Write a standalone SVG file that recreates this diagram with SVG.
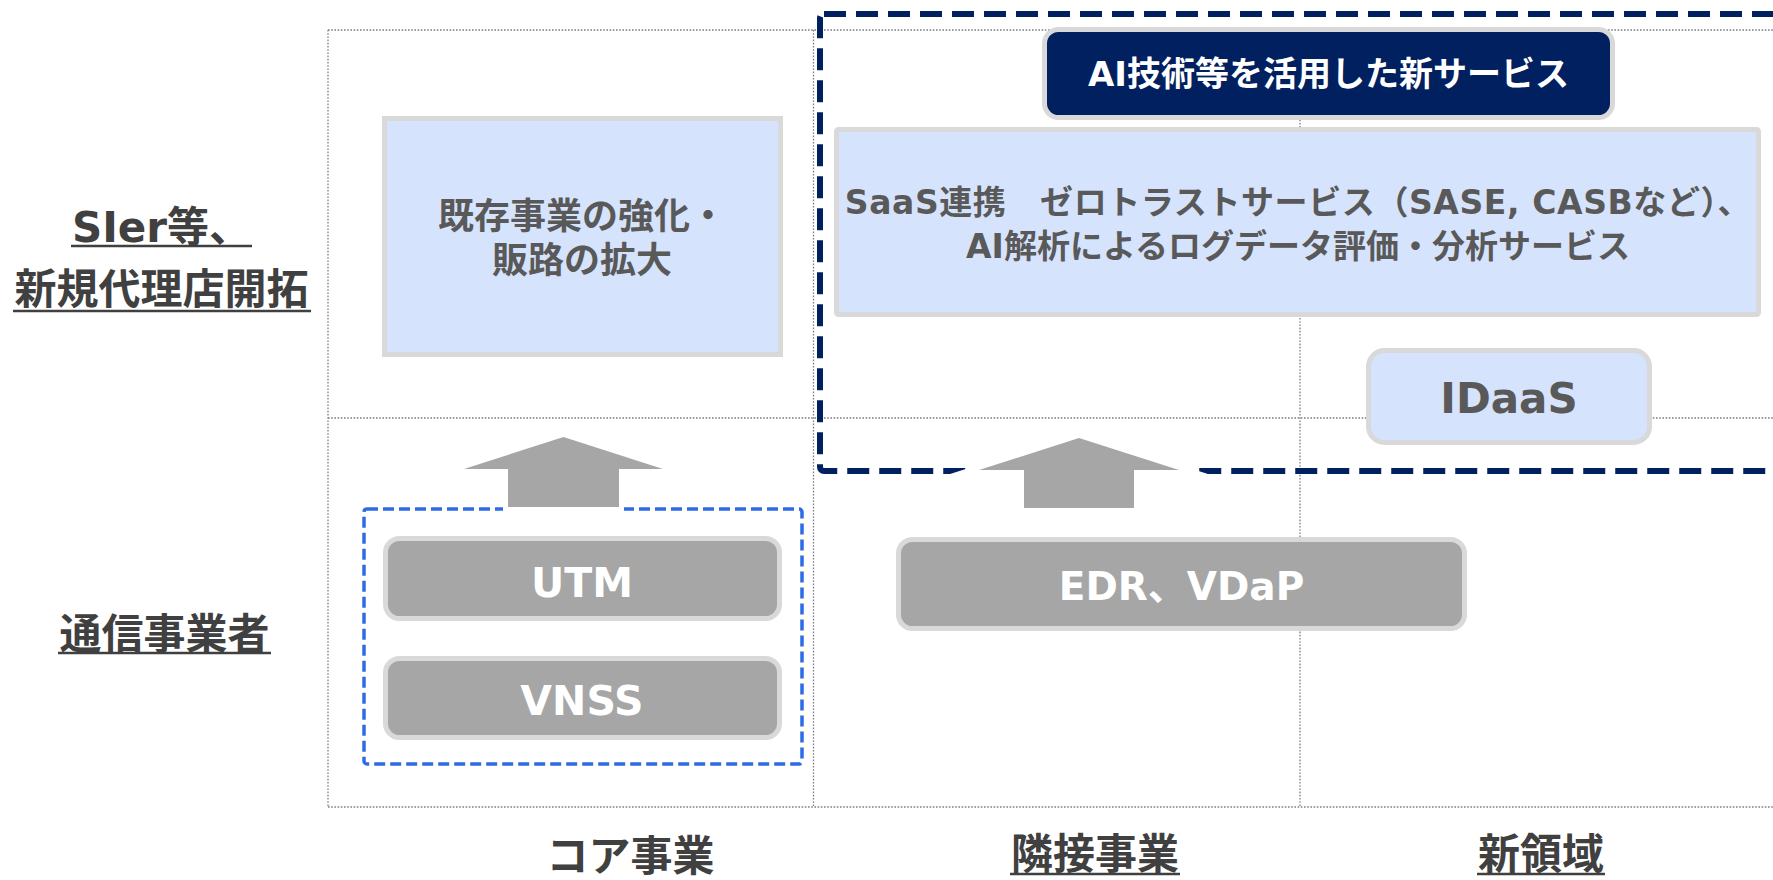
<svg xmlns="http://www.w3.org/2000/svg" width="1773" height="880" viewBox="0 0 1773 880">
<style>
.grid{stroke:#7f7f7f;stroke-width:1.3;stroke-dasharray:1.6 1.6;fill:none}
.lbl{font-family:'DejaVu Sans','Noto Sans CJK JP',sans-serif;font-weight:700;fill:#404040;font-size:42px;text-anchor:middle}
.ul{stroke:#404040;stroke-width:2.5}
.blue{fill:#d6e3fc;stroke:#d9d9d9;stroke-width:5}
.gray{fill:#a6a6a6;stroke:#d9d9d9;stroke-width:5}
.navy{fill:#00205f;stroke:#d9d9d9;stroke-width:5}
.t{font-family:'DejaVu Sans','Noto Sans CJK JP',sans-serif;font-weight:700;text-anchor:middle}
.dk{fill:#595959}
.wh{fill:#ffffff}
.arrow{fill:#a6a6a6;stroke:#ffffff;stroke-width:10;stroke-miterlimit:10;paint-order:stroke}
</style>
<rect width="1773" height="880" fill="#ffffff"/>
<g id="grid">
<line class="grid" x1="328" y1="30" x2="1773" y2="30"/>
<line class="grid" x1="328" y1="418" x2="1773" y2="418"/>
<line class="grid" x1="328" y1="807" x2="1773" y2="807"/>
<line class="grid" x1="328" y1="30" x2="328" y2="807"/>
<line class="grid" x1="813.5" y1="30" x2="813.5" y2="807"/>
<line class="grid" x1="1300" y1="30" x2="1300" y2="807"/>
</g>
<g id="row-labels">
<text class="lbl" x="161.5" y="242">SIer等、</text>
<line class="ul" x1="71" y1="246" x2="252" y2="246"/>
<text class="lbl" x="161.5" y="304">新規代理店開拓</text>
<line class="ul" x1="13" y1="311" x2="311" y2="311"/>
<text class="lbl" x="164.5" y="649">通信事業者</text>
<line class="ul" x1="58" y1="653" x2="271" y2="653"/>
</g>
<g id="col-labels">
<text class="lbl" x="630.5" y="871">コア事業</text>
<text class="lbl" x="1095" y="869">隣接事業</text>
<line class="ul" x1="1010" y1="874" x2="1180" y2="874"/>
<text class="lbl" x="1541" y="869">新領域</text>
<line class="ul" x1="1477" y1="874" x2="1605" y2="874"/>
</g>
<g id="core-group">
<rect x="364" y="509" width="438" height="255" rx="3" fill="none" stroke="#2e6be6" stroke-width="3.5" stroke-dasharray="11 5"/>
</g>
<g id="new-service-group">
<rect x="820" y="14" width="1000" height="457" rx="4" fill="none" stroke="#00205f" stroke-width="6" stroke-dasharray="22 10"/>
</g>
<g id="node-existing">
<rect class="blue" x="384.5" y="118.5" width="396" height="236"/>
<text class="t dk" x="582" y="229" font-size="36">既存事業の強化・</text>
<text class="t dk" x="582" y="273" font-size="36">販路の拡大</text>
</g>
<g id="node-ai-title">
<rect class="navy" x="1044.5" y="29.5" width="568" height="88" rx="14"/>
<text class="t wh" x="1328.5" y="86" font-size="34">AI技術等を活用した新サービス</text>
</g>
<g id="node-saas">
<rect class="blue" x="836.5" y="129.5" width="922" height="185" rx="2"/>
<text class="t dk" x="1298" y="214" font-size="33" letter-spacing="0.6">SaaS連携　ゼロトラストサービス（SASE, CASBなど）、</text>
<text class="t dk" x="1298" y="258" font-size="33">AI解析によるログデータ評価・分析サービス</text>
</g>
<g id="node-idaas">
<rect class="blue" x="1368.5" y="350.5" width="281" height="92" rx="16"/>
<text class="t dk" x="1509" y="413" font-size="42">IDaaS</text>
</g>
<g id="node-utm">
<rect class="gray" x="385.5" y="538.5" width="394" height="80" rx="14"/>
<text class="t wh" x="582" y="597" font-size="41">UTM</text>
</g>
<g id="node-vnss">
<rect class="gray" x="385.5" y="658.5" width="394" height="79" rx="14"/>
<text class="t wh" x="582" y="715" font-size="41">VNSS</text>
</g>
<g id="node-edr">
<rect class="gray" x="898.5" y="539.5" width="566" height="89" rx="14"/>
<text class="t wh" x="1181.5" y="600" font-size="39">EDR、VDaP</text>
</g>
<g id="connectors">
<polygon class="arrow" points="563.5,437 663,469 619,469 619,507 508,507 508,469 464,469"/>
<polygon class="arrow" points="1079,438 1179,470 1134,470 1134,508 1024,508 1024,470 979,470"/>
</g>
</svg>
